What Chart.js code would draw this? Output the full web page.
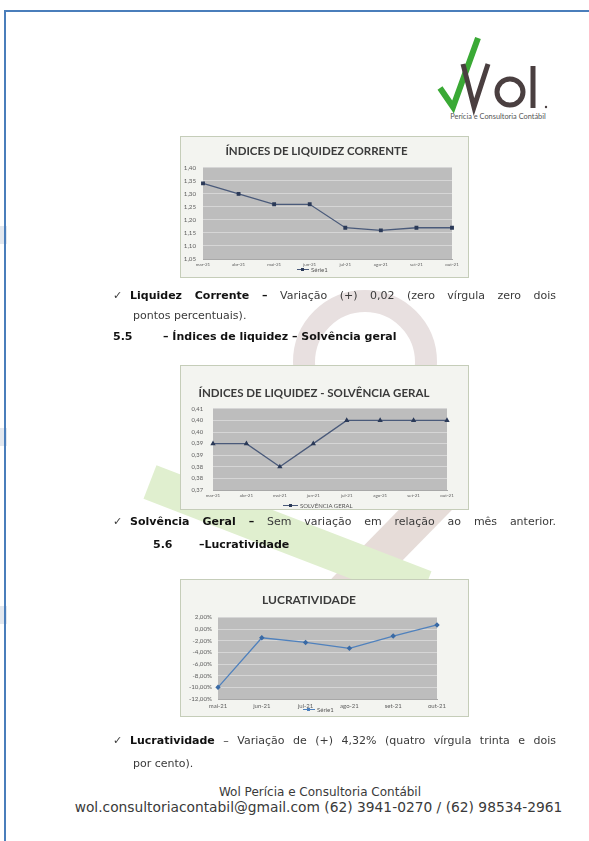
<!DOCTYPE html>
<html>
<head>
<meta charset="utf-8">
<script src="https://cdn.jsdelivr.net/npm/chart.js@4.4.0/dist/chart.umd.min.js"></script>
<style>
  body { margin: 0; background: #fff; }
  #page { position: relative; width: 589px; height: 841px; overflow: hidden; font-family: "DejaVu Sans", Verdana, sans-serif; color: #3a3a3a; }
  .frame { position: absolute; left: 4px; top: 10px; width: 620px; height: 900px; border-top: 2px solid #4a7ebb; border-left: 2px solid #4a7ebb; }
  #wm { position: absolute; left: 0; top: 0; }
  .box { position: absolute; left: 180px; width: 287px; background: #f3f4f0; border: 1px solid #c5cdb9; }
  .box canvas { position: absolute; left: 0; top: 0; }
  .leg { position: absolute; display: flex; align-items: center; font-family: Lato, "Liberation Sans", sans-serif; font-size: 6px; color: #555; white-space: nowrap; }
  .leg i { display: inline-block; width: 12px; height: 1px; margin-right: 2px; position: relative; }
  .leg i b { position: absolute; left: 4px; top: -1.5px; width: 3px; height: 3px; }
  .t { position: absolute; font-size: 11px; line-height: 14px; white-space: nowrap; }
  .j { text-align: justify; text-align-last: justify; white-space: normal; }
  .b { font-weight: bold; color: #111; }
</style>
</head>
<body>
<div id="page">
  <svg id="wm" width="589" height="841">
    <rect x="0" y="226" width="7" height="18" fill="#e3e8ef"/>
    <rect x="0" y="428" width="7" height="18" fill="#e3e8ef"/>
    <rect x="0" y="606" width="7" height="18" fill="#e3e8ef"/>
    <circle cx="365" cy="362" r="61" fill="none" stroke="#e8e0e0" stroke-width="22"/>
    <line x1="440" y1="495" x2="345" y2="592" stroke="#e6dcd8" stroke-width="38"/>
    <line x1="150" y1="482" x2="425" y2="588" stroke="#e0efcf" stroke-width="36"/>
  </svg>
  <div class="frame"></div>

  <svg style="position:absolute;left:0;top:0" width="589" height="130">
    <polyline points="440,88 453,107 478,38" fill="none" stroke="#3aa935" stroke-width="6" stroke-linejoin="miter"/>
    <polyline points="463,64 474,107 488,64" fill="none" stroke="#4a3f40" stroke-width="5"/>
    <circle cx="510" cy="92" r="13" fill="none" stroke="#4a3f40" stroke-width="5"/>
    <line x1="533" y1="66" x2="533" y2="108" stroke="#4a3f40" stroke-width="5"/>
    <circle cx="546" cy="107" r="1.2" fill="#4a3f40"/>
    <text x="498" y="119" text-anchor="middle" font-family="Lato, sans-serif" font-size="7.4" fill="#555">Perícia e Consultoria Contábil</text>
  </svg>

  <div class="box" style="top:136px;height:140px;"><canvas id="c1" width="287" height="140"></canvas></div>
  <div class="leg" style="left:297px;top:266px;"><i style="background:#4a5a7a"><b style="background:#2b3a58"></b></i>Série1</div>

  <div class="t" style="left:113px;top:289px;">✓</div>
  <div class="t j" style="left:130px;top:289px;width:426px;"><span class="b">Liquidez Corrente –</span> Variação (+) 0,02 (zero vírgula zero dois</div>
  <div class="t" style="left:133px;top:309px;">pontos percentuais).</div>
  <div class="t b" style="left:113px;top:330px;">5.5</div>
  <div class="t b" style="left:163px;top:330px;">– Índices de liquidez – Solvência geral</div>

  <div class="box" style="top:365px;height:143px;"><canvas id="c2" width="287" height="143"></canvas></div>
  <div class="leg" style="left:283px;top:502px;"><i style="width:15px;background:#4a5a7a"><b style="left:6px;background:#2b3a58"></b></i>SOLVÊNCIA GERAL</div>

  <div class="t" style="left:113px;top:515px;">✓</div>
  <div class="t j" style="left:130px;top:515px;width:426px;"><span class="b">Solvência Geral –</span> Sem variação em relação ao mês anterior.</div>
  <div class="t b" style="left:153px;top:538px;">5.6</div>
  <div class="t b" style="left:199px;top:538px;">–Lucratividade</div>

  <div class="box" style="top:579px;height:136px;"><canvas id="c3" width="287" height="136"></canvas></div>
  <div class="leg" style="left:303px;top:706px;"><i style="background:#4f81bd"><b style="background:#4f81bd"></b></i>Série1</div>

  <div class="t" style="left:113px;top:734px;">✓</div>
  <div class="t j" style="left:130px;top:734px;width:426px;"><span class="b">Lucratividade</span> – Variação de (+) 4,32% (quatro vírgula trinta e dois</div>
  <div class="t" style="left:133px;top:757px;">por cento).</div>

  <div class="t" style="left:0;width:640px;text-align:center;top:785px;font-size:12px;">Wol Perícia e Consultoria Contábil</div>
  <div class="t" style="left:0;width:637px;text-align:center;top:800px;font-size:13.8px;">wol.consultoriacontabil@gmail.com (62) 3941-0270 / (62) 98534-2961</div>
</div>

<script>
// chart data
const meses = ['mar-21', 'abr-21', 'mai-21', 'jun-21', 'jul-21', 'ago-21', 'set-21', 'out-21'];
const liquidezCorrente = [1.34, 1.30, 1.26, 1.26, 1.17, 1.16, 1.17, 1.17];

const solvenciaGeral = [0.395, 0.395, 0.385, 0.395, 0.405, 0.405, 0.405, 0.405];
const solvenciaTicks = ['0,37', '0,38', '0,38', '0,39', '0,39', '0,40', '0,40', '0,41']; // bottom -> top

const mesesLucro = ['mai-21', 'jun-21', 'jul-21', 'ago-21', 'set-21', 'out-21'];
const lucratividade = [-10.0, -1.5, -2.3, -3.3, -1.2, 0.7];

const tickFont = 'Lato, "Liberation Sans", sans-serif';

// gray plot area like excel
const plotBg = {
    id: 'plotBg',
    beforeDraw(chart) {
        const a = chart.chartArea;
        const ctx = chart.ctx;
        ctx.save();
        ctx.fillStyle = '#bdbdbd';
        ctx.fillRect(a.left, a.top, a.width, a.height);
        ctx.restore();
    }
};

function lineChart(id, cfg) {
    const ctx = document.getElementById(id).getContext('2d');
    return new Chart(ctx, {
        type: 'line',
        data: {
            labels: cfg.labels,
            datasets: [{
                label: cfg.legend,
                data: cfg.values,
                borderColor: cfg.color,
                borderWidth: 1.3,
                pointStyle: cfg.point,
                pointRadius: 1.8,
                pointBackgroundColor: cfg.pointColor,
                pointBorderColor: cfg.pointColor,
                tension: 0
            }]
        },
        plugins: [plotBg],
        options: {
            responsive: false,
            animation: false,
            devicePixelRatio: 1,
            layout: { padding: { left: 0, right: cfg.right, top: cfg.top, bottom: 0 } },
            plugins: {
                legend: { display: false },
                tooltip: { enabled: false },
                title: {
                    display: true,
                    text: cfg.title,
                    color: '#3b3b3b',
                    font: { family: 'Lato, "Open Sans", sans-serif', size: cfg.titleSize, weight: 'bold', lineHeight: 1.2 },
                    padding: { top: 0, bottom: cfg.titleGap }
                }
            },
            scales: {
                x: {
                    offset: false,
                    grid: { display: false, drawTicks: false },
                    border: { display: true, color: '#a8a8a8' },
                    ticks: { font: { family: tickFont, size: cfg.xFont }, color: '#606060', padding: 3, maxRotation: 0, autoSkip: false },
                    afterFit: s => { s.height = cfg.xHeight; }
                },
                y: {
                    min: cfg.min,
                    max: cfg.max,
                    grid: { color: '#d6d6d6', drawTicks: false },
                    border: { display: false },
                    ticks: { stepSize: cfg.step, font: { family: tickFont, size: cfg.yFont }, color: '#606060', padding: cfg.yPad, callback: cfg.fmt },
                    afterFit: s => { s.width = cfg.yWidth; }
                }
            }
        }
    });
}

lineChart('c1', {
    labels: meses, values: liquidezCorrente, legend: 'Série1',
    title: 'ÍNDICES DE LIQUIDEZ CORRENTE', titleSize: 11.5, titleGap: 10, top: 7,
    color: '#4a5a7a', pointColor: '#2b3a58', point: 'rect',
    min: 1.05, max: 1.40, step: 0.05,
    fmt: v => v.toFixed(2).replace('.', ','),
    yWidth: 22, yPad: 7, right: 16, xHeight: 18, xFont: 4.5, yFont: 6.2
});

lineChart('c2', {
    labels: meses, values: solvenciaGeral, legend: 'SOLVÊNCIA GERAL',
    title: 'ÍNDICES DE LIQUIDEZ - SOLVÊNCIA GERAL', titleSize: 11.5, titleGap: 9, top: 20,
    color: '#4a5a7a', pointColor: '#2b3a58', point: 'triangle',
    min: 0.375, max: 0.41, step: 0.005,
    fmt: (v, i) => solvenciaTicks[i],
    yWidth: 32, yPad: 10, right: 21, xHeight: 19, xFont: 4.5, yFont: 5.8
});

lineChart('c3', {
    labels: mesesLucro, values: lucratividade, legend: 'Série1',
    title: 'LUCRATIVIDADE', titleSize: 12, titleGap: 10, top: 13,
    color: '#4f81bd', pointColor: '#3a6aa5', point: 'rectRot',
    min: -12, max: 2, step: 2,
    fmt: v => v.toFixed(2).replace('.', ',') + '%',
    yWidth: 37, yPad: 6, right: 31, xHeight: 17, xFont: 6, yFont: 6.2
});
</script>
</body>
</html>
